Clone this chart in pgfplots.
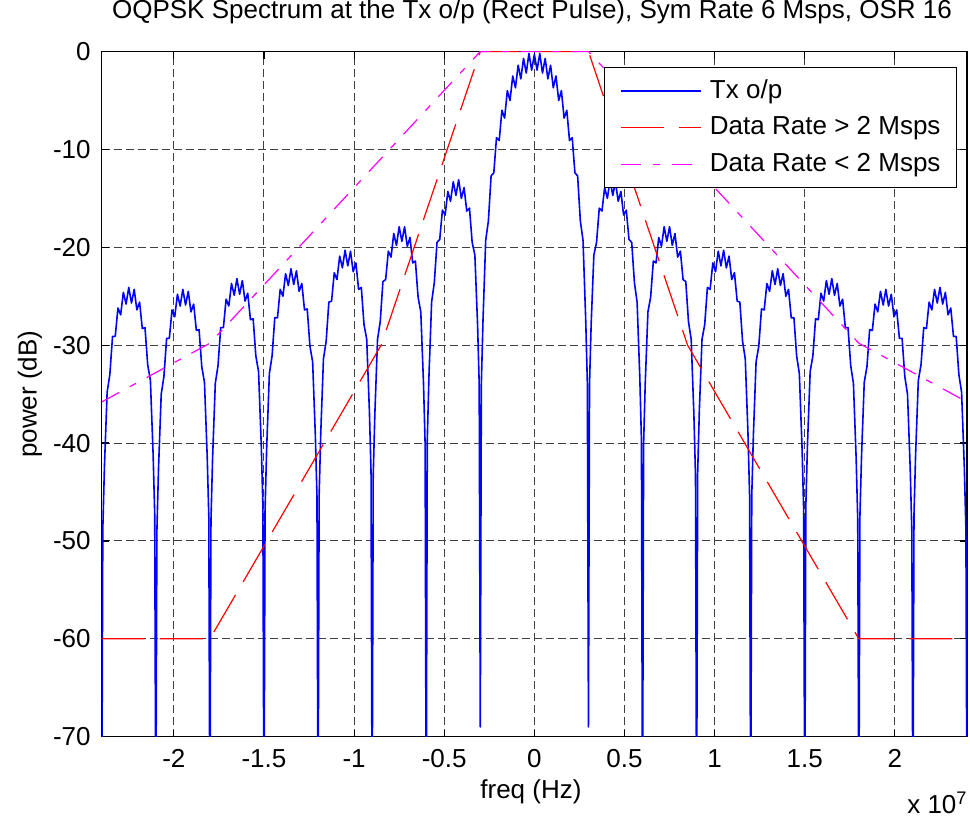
\documentclass[border=0pt]{standalone}
\usepackage{fontspec}
\setmainfont{Liberation Sans}
\usepackage{pgfplots}
\pgfplotsset{compat=1.18}
\definecolor{mblue}{RGB}{0,0,255}
\definecolor{mred}{RGB}{255,0,0}
\definecolor{mmag}{RGB}{255,0,255}
\begin{document}
\fontsize{13}{15.6}\selectfont
\begin{tikzpicture}
\useasboundingbox (-50.85pt,-40.25pt) rectangle (434pt,368.25pt);
\begin{axis}[
  name=ax,
  at={(0,0)}, anchor=south west,
  scale only axis, width=432.5pt, height=342.5pt,
  xmin=-2.4, xmax=2.4, ymin=-70, ymax=0,
  xtick={-2,-1.5,-1,-0.5,0,0.5,1,1.5,2},
  xticklabels={-2,-1.5,-1,-0.5,0,0.5,1,1.5,2},
  ytick={-70,-60,-50,-40,-30,-20,-10,0},
  yticklabels={-70,-60,-50,-40,-30,-20,-10,0},
  tick align=inside, major tick length=3.5pt,
  every tick/.style={black, line width=0.6pt},
  axis line style={black, line width=0.75pt},
  grid=major,
  major grid style={black!75, line width=0.5pt, dash pattern=on 4pt off 2pt},
  tick label style={font=\fontsize{13}{15.6}\selectfont},
  xticklabel style={inner sep=0pt, anchor=north, yshift=-6.25pt},
  yticklabel style={inner sep=0pt, anchor=east, xshift=-5.35pt},
  title={OQPSK Spectrum at the Tx o/p (Rect Pulse), Sym Rate 6 Msps, OSR 16},
  title style={at={(axis description cs:0.5,1)}, anchor=base, yshift=10.75pt, xshift=-1.2pt, inner sep=0pt, font=\fontsize{13}{15.6}\selectfont},
  xlabel={freq (Hz)},
  xlabel style={at={(axis description cs:0.5,0)}, anchor=base, yshift=-30.75pt, xshift=-1.7pt, inner sep=0pt, font=\fontsize{13}{15.6}\selectfont},
  ylabel={power (dB)},
  ylabel style={at={(axis description cs:-0.07514,0.5)}, anchor=base, inner sep=0pt, font=\fontsize{13}{15.6}\selectfont},
  legend cell align=left,
  legend style={at={(rel axis cs:1,1)}, anchor=north east, xshift=-4.85pt, yshift=-7.6pt,
    draw=black, line width=0.75pt, fill=white,
    inner xsep=8pt, inner ysep=6.3pt, row sep=7.65pt,
    font=\fontsize{13}{15.6}\selectfont,
    nodes={inner sep=0pt, text height=9pt, text depth=1.7pt},
    /tikz/every odd column/.append style={column sep=4pt}},
]
\addplot[color=mblue, line width=0.8pt, line join=round,
  legend image code/.code={\draw[mblue, line width=0.8pt] (0pt,0pt) -- (40pt,0pt);}] coordinates {
(-2.4,-80)
(-2.394,-48.8) (-2.385,-42.4) (-2.370,-34.8) (-2.355,-33.0) (-2.340,-29.1) (-2.325,-29.1) (-2.310,-26.2) (-2.295,-26.9) (-2.280,-24.6) (-2.265,-25.8) (-2.250,-24.1) (-2.235,-25.7) (-2.220,-24.3) (-2.205,-26.4) (-2.190,-25.6) (-2.175,-28.3) (-2.160,-28.2) (-2.145,-32.0) (-2.130,-33.6) (-2.115,-41.1) (-2.106,-47.3) (-2.1,-80)
(-2.094,-49.0) (-2.085,-42.6) (-2.070,-35.0) (-2.055,-33.2) (-2.040,-29.3) (-2.025,-29.3) (-2.010,-26.4) (-1.995,-27.1) (-1.980,-24.8) (-1.965,-26.0) (-1.950,-24.3) (-1.935,-25.9) (-1.920,-24.5) (-1.905,-26.6) (-1.890,-25.8) (-1.875,-28.5) (-1.860,-28.4) (-1.845,-32.2) (-1.830,-33.8) (-1.815,-41.3) (-1.806,-47.5) (-1.8,-80)
(-1.794,-47.9) (-1.785,-41.5) (-1.770,-33.9) (-1.755,-32.1) (-1.740,-28.2) (-1.725,-28.2) (-1.710,-25.3) (-1.695,-26.0) (-1.680,-23.7) (-1.665,-24.9) (-1.650,-23.2) (-1.635,-24.8) (-1.620,-23.4) (-1.605,-25.5) (-1.590,-24.7) (-1.575,-27.4) (-1.560,-27.3) (-1.545,-31.1) (-1.530,-32.7) (-1.515,-40.2) (-1.506,-46.4) (-1.5,-80)
(-1.494,-46.9) (-1.485,-40.5) (-1.470,-32.9) (-1.455,-31.1) (-1.440,-27.2) (-1.425,-27.2) (-1.410,-24.3) (-1.395,-25.0) (-1.380,-22.7) (-1.365,-23.9) (-1.350,-22.2) (-1.335,-23.8) (-1.320,-22.4) (-1.305,-24.5) (-1.290,-23.7) (-1.275,-26.4) (-1.260,-26.3) (-1.245,-30.1) (-1.230,-31.7) (-1.215,-39.2) (-1.206,-45.4) (-1.2,-80)
(-1.194,-45.4) (-1.185,-39.0) (-1.170,-31.4) (-1.155,-29.6) (-1.140,-25.6) (-1.125,-25.5) (-1.110,-22.6) (-1.095,-23.3) (-1.080,-20.9) (-1.065,-22.1) (-1.050,-20.3) (-1.035,-21.9) (-1.020,-20.4) (-1.005,-22.5) (-0.990,-21.6) (-0.975,-24.3) (-0.960,-24.1) (-0.945,-27.9) (-0.930,-29.4) (-0.915,-36.8) (-0.906,-43.0) (-0.9,-80)
(-0.894,-43.4) (-0.885,-37.1) (-0.870,-29.4) (-0.855,-27.6) (-0.840,-23.5) (-0.825,-23.3) (-0.810,-20.4) (-0.795,-21.0) (-0.780,-18.6) (-0.765,-19.8) (-0.750,-17.9) (-0.735,-19.4) (-0.720,-17.9) (-0.705,-19.9) (-0.690,-19.0) (-0.675,-21.6) (-0.660,-21.4) (-0.645,-25.1) (-0.630,-26.6) (-0.615,-33.9) (-0.606,-40.1) (-0.6,-80)
(-0.594,-39.7) (-0.585,-33.3) (-0.570,-25.6) (-0.555,-23.6) (-0.540,-19.5) (-0.525,-19.2) (-0.510,-16.2) (-0.495,-16.7) (-0.480,-14.3) (-0.465,-15.3) (-0.450,-13.3) (-0.435,-14.7) (-0.420,-13.1) (-0.405,-15.0) (-0.390,-13.9) (-0.375,-16.3) (-0.360,-16.0) (-0.345,-19.5) (-0.330,-20.8) (-0.315,-27.9) (-0.306,-34.0) (-0.3,-69)
(-0.294,-33.9) (-0.285,-27.5) (-0.270,-19.3) (-0.255,-17.3) (-0.240,-12.7) (-0.225,-12.4) (-0.210,-8.8) (-0.195,-9.1) (-0.180,-6.0) (-0.165,-6.8) (-0.150,-4.0) (-0.135,-5.0) (-0.120,-2.5) (-0.105,-3.7) (-0.090,-1.4) (-0.075,-2.8) (-0.060,-0.7) (-0.045,-2.2) (-0.030,-0.2) (-0.015,-1.9) (0,-0.3)
(0.015,-1.9) (0.030,-0.2) (0.045,-2.2) (0.060,-0.7) (0.075,-2.8) (0.090,-1.4) (0.105,-3.7) (0.120,-2.5) (0.135,-5.0) (0.150,-4.0) (0.165,-6.8) (0.180,-6.0) (0.195,-9.1) (0.210,-8.8) (0.225,-12.4) (0.240,-12.7) (0.255,-17.3) (0.270,-19.3) (0.285,-27.5) (0.294,-33.9) (0.3,-69)
(0.306,-34.0) (0.315,-27.9) (0.330,-20.8) (0.345,-19.5) (0.360,-16.0) (0.375,-16.3) (0.390,-13.9) (0.405,-15.0) (0.420,-13.1) (0.435,-14.7) (0.450,-13.3) (0.465,-15.3) (0.480,-14.3) (0.495,-16.7) (0.510,-16.2) (0.525,-19.2) (0.540,-19.5) (0.555,-23.6) (0.570,-25.6) (0.585,-33.3) (0.594,-39.7) (0.6,-80)
(0.606,-40.1) (0.615,-33.9) (0.630,-26.6) (0.645,-25.1) (0.660,-21.4) (0.675,-21.6) (0.690,-19.0) (0.705,-19.9) (0.720,-17.9) (0.735,-19.4) (0.750,-17.9) (0.765,-19.8) (0.780,-18.6) (0.795,-21.0) (0.810,-20.4) (0.825,-23.3) (0.840,-23.5) (0.855,-27.6) (0.870,-29.4) (0.885,-37.1) (0.894,-43.4) (0.9,-80)
(0.906,-43.0) (0.915,-36.8) (0.930,-29.4) (0.945,-27.9) (0.960,-24.1) (0.975,-24.3) (0.990,-21.6) (1.005,-22.5) (1.020,-20.4) (1.035,-21.9) (1.050,-20.3) (1.065,-22.1) (1.080,-20.9) (1.095,-23.3) (1.110,-22.6) (1.125,-25.5) (1.140,-25.6) (1.155,-29.6) (1.170,-31.4) (1.185,-39.0) (1.194,-45.4) (1.2,-80)
(1.206,-45.4) (1.215,-39.2) (1.230,-31.7) (1.245,-30.1) (1.260,-26.3) (1.275,-26.4) (1.290,-23.7) (1.305,-24.5) (1.320,-22.4) (1.335,-23.8) (1.350,-22.2) (1.365,-23.9) (1.380,-22.7) (1.395,-25.0) (1.410,-24.3) (1.425,-27.2) (1.440,-27.2) (1.455,-31.1) (1.470,-32.9) (1.485,-40.5) (1.494,-46.9) (1.5,-80)
(1.506,-46.4) (1.515,-40.2) (1.530,-32.7) (1.545,-31.1) (1.560,-27.3) (1.575,-27.4) (1.590,-24.7) (1.605,-25.5) (1.620,-23.4) (1.635,-24.8) (1.650,-23.2) (1.665,-24.9) (1.680,-23.7) (1.695,-26.0) (1.710,-25.3) (1.725,-28.2) (1.740,-28.2) (1.755,-32.1) (1.770,-33.9) (1.785,-41.5) (1.794,-47.9) (1.8,-80)
(1.806,-47.5) (1.815,-41.3) (1.830,-33.8) (1.845,-32.2) (1.860,-28.4) (1.875,-28.5) (1.890,-25.8) (1.905,-26.6) (1.920,-24.5) (1.935,-25.9) (1.950,-24.3) (1.965,-26.0) (1.980,-24.8) (1.995,-27.1) (2.010,-26.4) (2.025,-29.3) (2.040,-29.3) (2.055,-33.2) (2.070,-35.0) (2.085,-42.6) (2.094,-49.0) (2.1,-80)
(2.106,-47.3) (2.115,-41.1) (2.130,-33.6) (2.145,-32.0) (2.160,-28.2) (2.175,-28.3) (2.190,-25.6) (2.205,-26.4) (2.220,-24.3) (2.235,-25.7) (2.250,-24.1) (2.265,-25.8) (2.280,-24.6) (2.295,-26.9) (2.310,-26.2) (2.325,-29.1) (2.340,-29.1) (2.355,-33.0) (2.370,-34.8) (2.385,-42.4) (2.394,-48.8) (2.4,-80)
};
\addlegendentry{Tx o/p}
\addplot[color=mred, line width=0.6pt, dash pattern=on 21.5pt off 7.5pt,
  legend image code/.code={\draw[color=mred, line width=0.6pt, dash pattern=on 21.5pt off 7.5pt] (0pt,0pt) -- (40pt,0pt);}] coordinates {
(-2.4,-60) (-1.8,-60) (-0.85,-30) (-0.3,0) (0.3,0) (0.85,-30) (1.8,-60) (2.4,-60)
};
\addlegendentry{Data Rate > 2 Msps}
\addplot[color=mmag, line width=0.6pt, dash pattern=on 10pt off 6pt on 3.5pt off 6pt,
  legend image code/.code={\draw[color=mmag, line width=0.6pt, dash pattern=on 10pt off 6pt on 3.5pt off 6pt] (0pt,0pt) -- (40pt,0pt);}] coordinates {
(-2.4,-35.8) (-1.8,-29.8) (-0.3,0) (0.3,0) (1.8,-29.8) (2.4,-35.8)
};
\addlegendentry{Data Rate < 2 Msps}
\end{axis}
\node[anchor=base east, inner sep=0pt, font=\fontsize{13}{15.6}\selectfont] at ([xshift=0.5pt, yshift=-38.25pt]ax.south east) {x 10\textsuperscript{7}};
\end{tikzpicture}
\end{document}
